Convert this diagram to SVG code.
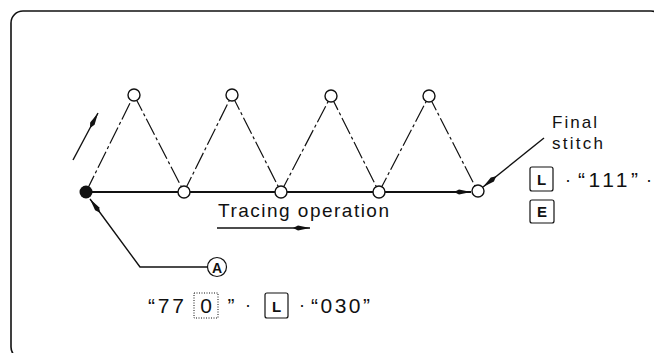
<svg xmlns="http://www.w3.org/2000/svg" width="654" height="353" viewBox="0 0 654 353">
<style>
  .frame{fill:none;stroke:#111;stroke-width:1.6}
  .zig{stroke:#111;stroke-width:1.2;stroke-dasharray:18 3 3 3;fill:none}
  .solid{stroke:#111;stroke-width:1.4;fill:none}
  .main{stroke:#111;stroke-width:1.8;fill:none}
  .open{fill:#fff;stroke:#111;stroke-width:1.4}
  .t{font-family:"Liberation Sans",Arial,sans-serif;fill:#111}
  .key{fill:#fff;stroke:#111;stroke-width:1.2}
  .keyd{fill:#fff;stroke:#111;stroke-width:1;stroke-dasharray:1 1.5}
  .kt{font-family:"Liberation Sans",Arial,sans-serif;font-weight:bold;font-size:15px;fill:#111;text-anchor:middle}
</style>
<defs>
  <marker id="ah" markerUnits="userSpaceOnUse" markerWidth="18" markerHeight="7" refX="17" refY="3.5" orient="auto">
    <path d="M0,3.5 L5,1 L17,3.5 L5,6 Z" fill="#111"/>
  </marker>
</defs>
<rect class="frame" x="11" y="11" width="652" height="348" rx="12"/>
<g id="connectors">
  <polyline class="zig" points="86,192 134,95 184,192 232,95 281,192 331,96 379,192 429,96 478,192"/>
  <line class="main" x1="86" y1="192" x2="471" y2="192" marker-end="url(#ah)"/>
  <line class="solid" x1="73" y1="160" x2="98" y2="113" marker-end="url(#ah)"/>
  <polyline class="solid" points="207,267 140,267 90,199" marker-end="url(#ah)"/>
  <line class="solid" x1="544" y1="138" x2="483" y2="187" marker-end="url(#ah)"/>
  <line class="solid" x1="217" y1="228" x2="310" y2="228" marker-end="url(#ah)"/>
</g>
<g id="start"><circle cx="86" cy="192" r="6.5" fill="#111"/></g>
<g id="b1"><circle class="open" cx="184" cy="192" r="6"/></g>
<g id="b2"><circle class="open" cx="281" cy="192" r="6"/></g>
<g id="b3"><circle class="open" cx="379" cy="192" r="6"/></g>
<g id="final"><circle class="open" cx="478" cy="191" r="6"/></g>
<g id="t1"><circle class="open" cx="134" cy="95" r="6"/></g>
<g id="t2"><circle class="open" cx="232" cy="95" r="6"/></g>
<g id="t3"><circle class="open" cx="331" cy="96" r="6"/></g>
<g id="t4"><circle class="open" cx="429" cy="96" r="6"/></g>
<g id="tracing"><text class="t" x="218" y="217" font-size="19" textLength="171" lengthAdjust="spacing">Tracing operation</text></g>
<g id="finalLabel">
  <text class="t" x="552" y="128" font-size="17" textLength="45" lengthAdjust="spacing">Final</text>
  <text class="t" x="552" y="149" font-size="17" textLength="51" lengthAdjust="spacing">stitch</text>
</g>
<g id="finalCode">
  <rect class="key" x="530" y="167" width="23" height="24" rx="2"/>
  <text class="kt" x="541.5" y="185">L</text>
  <text class="t" x="568" y="186" font-size="18" text-anchor="middle">·</text>
  <text class="t" x="578" y="187" font-size="21" textLength="60" lengthAdjust="spacing">“111”</text>
  <text class="t" x="649" y="186" font-size="18" text-anchor="middle">·</text>
  <rect class="key" x="530" y="200" width="24" height="23" rx="2"/>
  <text class="kt" x="542" y="217">E</text>
</g>
<g id="labelA">
  <circle cx="217" cy="267" r="9.5" fill="#fff" stroke="#111" stroke-width="1.2"/>
  <text class="t" x="217" y="272.5" font-size="14" font-weight="bold" text-anchor="middle">A</text>
</g>
<g id="startCode">
  <text class="t" x="148" y="313" font-size="21" textLength="36" lengthAdjust="spacing">“77</text>
  <rect class="keyd" x="194" y="293" width="24" height="25"/>
  <text class="t" x="206" y="313" font-size="21" text-anchor="middle">0</text>
  <text class="t" x="231" y="313" font-size="21" text-anchor="middle">”</text>
  <text class="t" x="248" y="311" font-size="18" text-anchor="middle">·</text>
  <rect class="key" x="265" y="293" width="23" height="25" rx="2"/>
  <text class="kt" x="276.5" y="312">L</text>
  <text class="t" x="302" y="311" font-size="18" text-anchor="middle">·</text>
  <text class="t" x="311" y="313" font-size="21" textLength="59" lengthAdjust="spacing">“030”</text>
</g>
</svg>
